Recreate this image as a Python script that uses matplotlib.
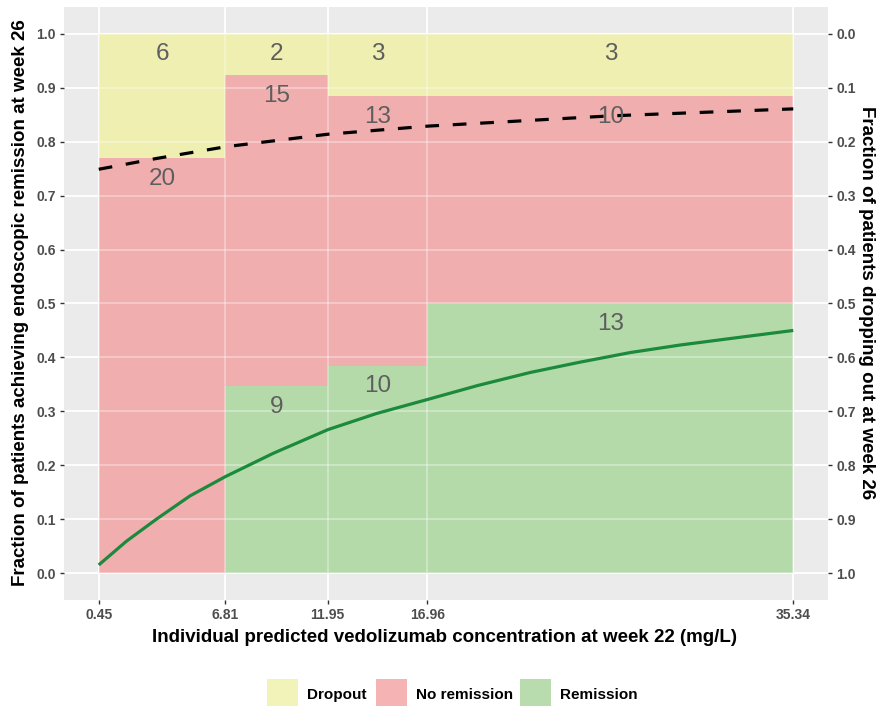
import matplotlib
matplotlib.use('Agg')
import matplotlib.pyplot as plt
from matplotlib.patches import Rectangle
import numpy as np

plt.rcParams['font.family'] = ['Liberation Sans', 'DejaVu Sans']

# ---- data ----
bin_edges = [0.45, 6.81, 11.95, 16.96, 35.34]
tick_labels = ['0.45', '6.81', '11.95', '16.96', '35.34']
categories = ['Dropout', 'No remission', 'Remission']
remission = [0, 9, 10, 13]
no_remission = [20, 15, 13, 10]
dropout = [6, 2, 3, 3]

remission_curve_x = [0.45, 1.84, 3.35, 5.03, 6.82, 9.21, 11.96, 14.41, 16.97, 19.5, 22.12,
                     24.6, 27.15, 29.66, 32.17, 35.34]
remission_curve_y = [0.015, 0.059, 0.100, 0.143, 0.179, 0.222, 0.266, 0.296, 0.322, 0.348, 0.372,
                     0.391, 0.409, 0.423, 0.435, 0.450]
dropout_curve_x = [0.45, 3.35, 6.87, 11.96, 16.97, 26.14, 35.34]
dropout_curve_y = [0.749, 0.769, 0.791, 0.814, 0.829, 0.848, 0.861]

# ---- style ----
col_drop = '#EEEFB0'
col_norem = '#F1AEAF'
col_rem = '#B5DAA9'
leg_cols = ['#F2F3B8', '#F5B3B4', '#B9DCAE']
bg = '#EBEBEB'

W, H = 876, 706
fig = plt.figure(figsize=(W / 100, H / 100), dpi=100)
ax = fig.add_axes([64 / W, 1 - 600 / H, (828 - 64) / W, (600 - 7) / H])
ax.set_facecolor(bg)
for s in ax.spines.values():
    s.set_visible(False)

xr = bin_edges[-1] - bin_edges[0]
ax.set_xlim(bin_edges[0] - 0.05 * xr, bin_edges[-1] + 0.05 * xr)
ax.set_ylim(-0.05, 1.05)

yticks = np.round(np.arange(0, 1.01, 0.1), 1)
ax.set_yticks(yticks)
ax.set_yticklabels([f'{v:.1f}' for v in yticks])
ax.set_xticks(bin_edges)
ax.set_xticklabels(tick_labels)

# grid below
for y in yticks:
    ax.axhline(y, color='white', lw=1.3, zorder=0.5)
for x in bin_edges:
    ax.axvline(x, color='white', lw=1.3, zorder=0.5)

# stacked rectangles
for i in range(len(remission)):
    x0, x1 = bin_edges[i], bin_edges[i + 1]
    tot = remission[i] + no_remission[i] + dropout[i]
    f_rem = remission[i] / tot
    f_nr = no_remission[i] / tot
    f_dr = dropout[i] / tot
    segs = [(0, f_rem, col_rem, remission[i]),
            (f_rem, f_nr, col_norem, no_remission[i]),
            (f_rem + f_nr, f_dr, col_drop, dropout[i])]
    for b, h, c, n in segs:
        if n == 0:
            continue
        ax.add_patch(Rectangle((x0, b), x1 - x0, h, facecolor=c, edgecolor='none', zorder=1))
        ax.text((x0 + x1) / 2, b + h - 0.038, str(n), ha='center', va='center',
                fontsize=17.5, color='#5E5E5E', zorder=4)

# faint grid over rectangles
for y in yticks:
    ax.axhline(y, color='white', lw=1.3, alpha=0.35, zorder=1.5)
for x in bin_edges:
    ax.axvline(x, color='white', lw=1.3, alpha=0.35, zorder=1.5)

ax.plot(remission_curve_x, remission_curve_y, color='#1B8A3C', lw=2.3, zorder=3,
        solid_capstyle='butt', solid_joinstyle='round')
ax.plot(dropout_curve_x, dropout_curve_y, color='black', lw=2.3, zorder=3,
        linestyle=(0, (4.3, 4.3)), dash_capstyle='butt')

ax.tick_params(axis='both', length=3, width=1, color='#333333', labelcolor='#4D4D4D',
               labelsize=10, pad=3)
for lab in ax.get_xticklabels() + ax.get_yticklabels():
    lab.set_fontweight('bold')

sec = ax.secondary_yaxis('right', functions=(lambda y: 1 - y, lambda y: 1 - y))
sec.set_yticks(yticks)
sec.set_yticklabels([f'{v:.1f}' for v in yticks])
sec.tick_params(length=3, width=1, color='#333333', labelcolor='#4D4D4D', labelsize=10, pad=3)
for lab in sec.get_yticklabels():
    lab.set_fontweight('bold')
for s in sec.spines.values():
    s.set_visible(False)

# axis titles
fig.text(445 / W, 1 - 637 / H, 'Individual predicted vedolizumab concentration at week 22 (mg/L)',
         ha='center', va='center', fontsize=13.5, fontweight='bold', color='black')
fig.text(21 / W, 1 - 303 / H, 'Fraction of patients achieving endoscopic remission at week 26',
         ha='center', va='center', rotation=90, fontsize=13.5, fontweight='bold', color='black')
fig.text(867 / W, 1 - 303 / H, 'Fraction of patients dropping out at week 26',
         ha='center', va='center', rotation=-90, fontsize=13.5, fontweight='bold', color='black')

# legend
key_x = [267, 376, 520]
for kx, c, lab in zip(key_x, leg_cols, categories):
    fig.patches.append(Rectangle((kx / W, 1 - 710 / H), 31 / W, 31 / H, transform=fig.transFigure,
                                 facecolor=c, edgecolor='none'))
    fig.text((kx + 40) / W, 1 - 695 / H, lab, ha='left', va='center', fontsize=11,
             fontweight='bold', color='black')

fig.savefig('out.png', dpi=100)
